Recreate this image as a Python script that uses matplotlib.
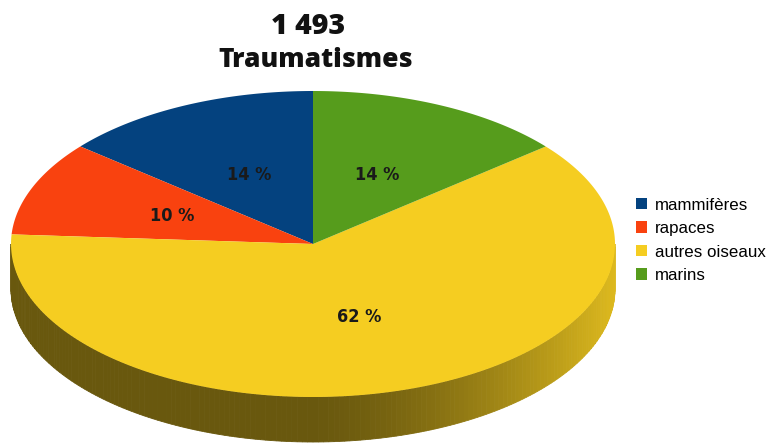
import numpy as np
import matplotlib
matplotlib.use("Agg")
import matplotlib.pyplot as plt
from matplotlib.patches import Patch

# data
categories = ["mammifères", "rapaces", "autres oiseaux", "marins"]
shares = [14, 10, 62, 14]
colors = ["#04427f", "#f9420f", "#f5cd21", "#569c1c"]
total_label = "1 493"
title_label = "Traumatismes"

# pie geometry in pixel units
CX, CY = 313, 244
RX, RY = 302, 153
DEPTH = 45


def ellipse_pts(t0, t1, n=200):
    t = np.radians(np.linspace(t0, t1, n))
    return CX + RX * np.cos(t), CY - RY * np.sin(t)


def shade(color, factor):
    rgb = np.array(matplotlib.colors.to_rgb(color))
    return tuple(np.clip(rgb * factor, 0, 1))


fig = plt.figure(figsize=(7.68, 4.45), dpi=100)
ax = fig.add_axes([0, 0, 1, 1])
ax.set_xlim(0, 768)
ax.set_ylim(445, 0)
ax.axis("off")

fracs = np.array(shares, dtype=float) / sum(shares)
starts = 90 + 360 * np.concatenate([[0], np.cumsum(fracs)[:-1]])
ends = starts + 360 * fracs

# side wall (front half only), shaded by angle
for s, e, c in zip(starts, ends, colors):
    for k in range(2):
        lo = max(s, 180 + 360 * k)
        hi = min(e, 360 + 360 * k)
        if hi <= lo:
            continue
        steps = np.arange(lo, hi, 1.0).tolist() + [hi]
        for a0, a1 in zip(steps[:-1], steps[1:]):
            mid = np.radians(0.5 * (a0 + a1))
            f = 0.43 + 0.47 * max(np.cos(mid), 0) ** 1.5
            xs, ys = ellipse_pts(a0, a1, 4)
            px = np.concatenate([xs, xs[::-1]])
            py = np.concatenate([ys, ys[::-1] + DEPTH])
            ax.fill(px, py, color=shade(c, f), lw=0.6, ec=shade(c, f))

# top face
for s, e, c in zip(starts, ends, colors):
    xs, ys = ellipse_pts(s, e)
    ax.fill(np.r_[CX, xs], np.r_[CY, ys], color=c, lw=0)

# percentage labels
for s, e in zip(starts, ends):
    mid = np.radians(0.5 * (s + e))
    pct = round(100 * (e - s) / 360)
    ax.text(CX + 0.5 * RX * np.cos(mid), CY - 0.5 * RY * np.sin(mid), f"{pct} %",
            ha="center", va="center", fontsize=13, fontweight="bold", color="#1a1a1a",
            fontstretch="condensed", family=["Liberation Sans Narrow", "DejaVu Sans"])

# titles
ax.text(308, 27, total_label, ha="center", va="center", fontsize=20.5,
        fontweight=800, family=["Open Sans", "DejaVu Sans"], color="#111111")
ax.text(316, 60, title_label, ha="center", va="center", fontsize=19,
        fontweight=800, family=["Open Sans", "DejaVu Sans"], color="#111111")

handles = [Patch(facecolor=c, edgecolor="none") for c in colors]
ax.legend(handles, categories, loc="upper left", bbox_to_anchor=(0.828, 0.556),
          frameon=False, prop={"family": "Liberation Sans", "size": 12.2},
          handlelength=0.65, handleheight=0.65, handletextpad=0.45, labelspacing=0.5,
          borderpad=0, borderaxespad=0)

fig.savefig("out.png", dpi=100)
